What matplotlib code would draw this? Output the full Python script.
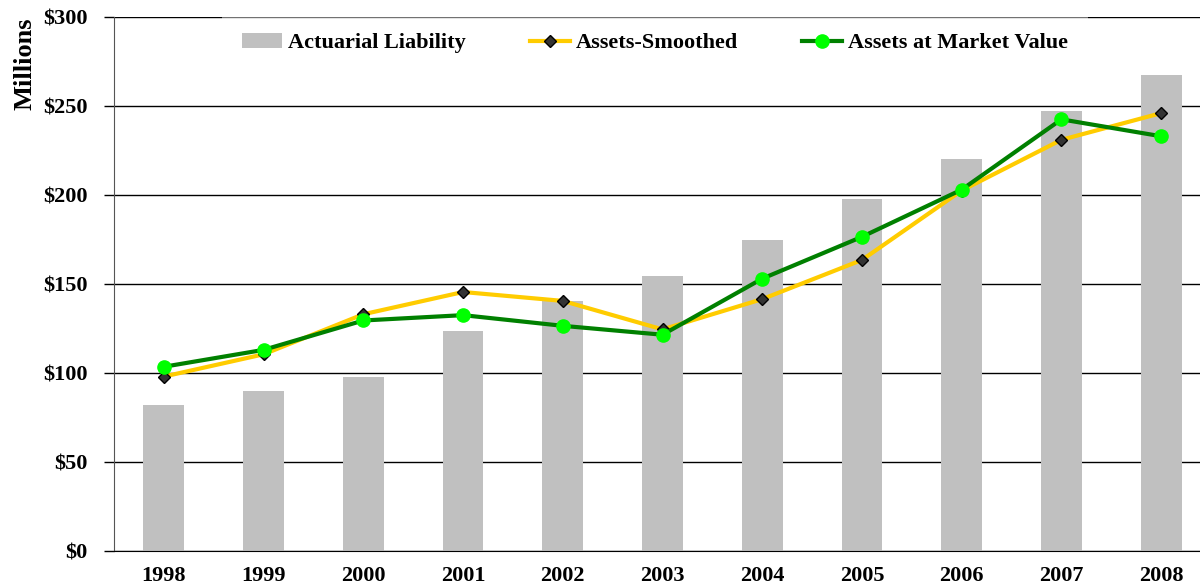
import matplotlib.pyplot as plt
from matplotlib.ticker import FuncFormatter

plt.rcParams['font.family'] = ['Liberation Serif', 'DejaVu Serif']
plt.rcParams['font.weight'] = 'bold'

years = ['1998', '1999', '2000', '2001', '2002', '2003', '2004', '2005', '2006', '2007', '2008']
liability = [82, 90, 97.5, 123.5, 140.5, 154.5, 175, 198, 220.5, 247, 267.5]
smoothed = [98, 110.5, 133, 145.5, 140.5, 124.5, 141.5, 163.5, 202.5, 231, 246]
market = [103.5, 113, 129.5, 132.5, 126.5, 121.5, 153, 176.5, 203, 242.5, 233]

fig = plt.figure(figsize=(12, 5.86), dpi=100)
# axes run a bit past the right edge, the last bar is cropped in the original
ax = fig.add_axes([114 / 1200, 35 / 586, 1097 / 1200, 534 / 586])

x = list(range(len(years)))
bars = ax.bar(x, liability, width=0.41, color='#C0C0C0', label='Actuarial Liability', zorder=2)
l1, = ax.plot(x, smoothed, color='#FFCC00', lw=3, marker='D', ms=6.5, mfc='#333333',
              mec='black', mew=1, label='Assets-Smoothed', zorder=3)
l2, = ax.plot(x, market, color='#008000', lw=3, marker='o', ms=9.5, mfc='#00FF00',
              mec='#00FF00', label='Assets at Market Value', zorder=4)

ax.set_xlim(-0.5, 10.5)
ax.set_ylim(0, 300)
ax.set_yticks(range(0, 301, 50))
ax.yaxis.set_major_formatter(FuncFormatter(lambda v, p: f'${v:.0f}'))
ax.set_xticks(x)
ax.set_xticklabels(years)
ax.tick_params(axis='x', length=0, pad=11, labelsize=16)
ax.tick_params(axis='y', length=7, width=1, direction='out', labelsize=16, pad=12)
ax.grid(axis='y', color='black', lw=1, zorder=1)
ax.set_axisbelow(True)
for s in ['top', 'right']:
    ax.spines[s].set_visible(False)
ax.spines['left'].set_color('#555555')

fig.text(25 / 1200, 1 - 64 / 586, 'Millions', rotation=90, fontsize=19,
         ha='center', va='center', fontweight='bold')

# legend box is slightly see-through, the top gridline shows grey behind it
leg = fig.legend([bars, l1, l2], ['Actuarial Liability', 'Assets-Smoothed', 'Assets at Market Value'],
                 loc='center', bbox_to_anchor=(655 / 1200, 1 - 43 / 586), ncol=3,
                 fontsize=16, handlelength=1.8, handletextpad=0.25, columnspacing=2.9,
                 frameon=True, facecolor='white', edgecolor='none', framealpha=0.45,
                 borderpad=0.9)
leg.set_zorder(10)

fig.savefig('out.png', dpi=100)
